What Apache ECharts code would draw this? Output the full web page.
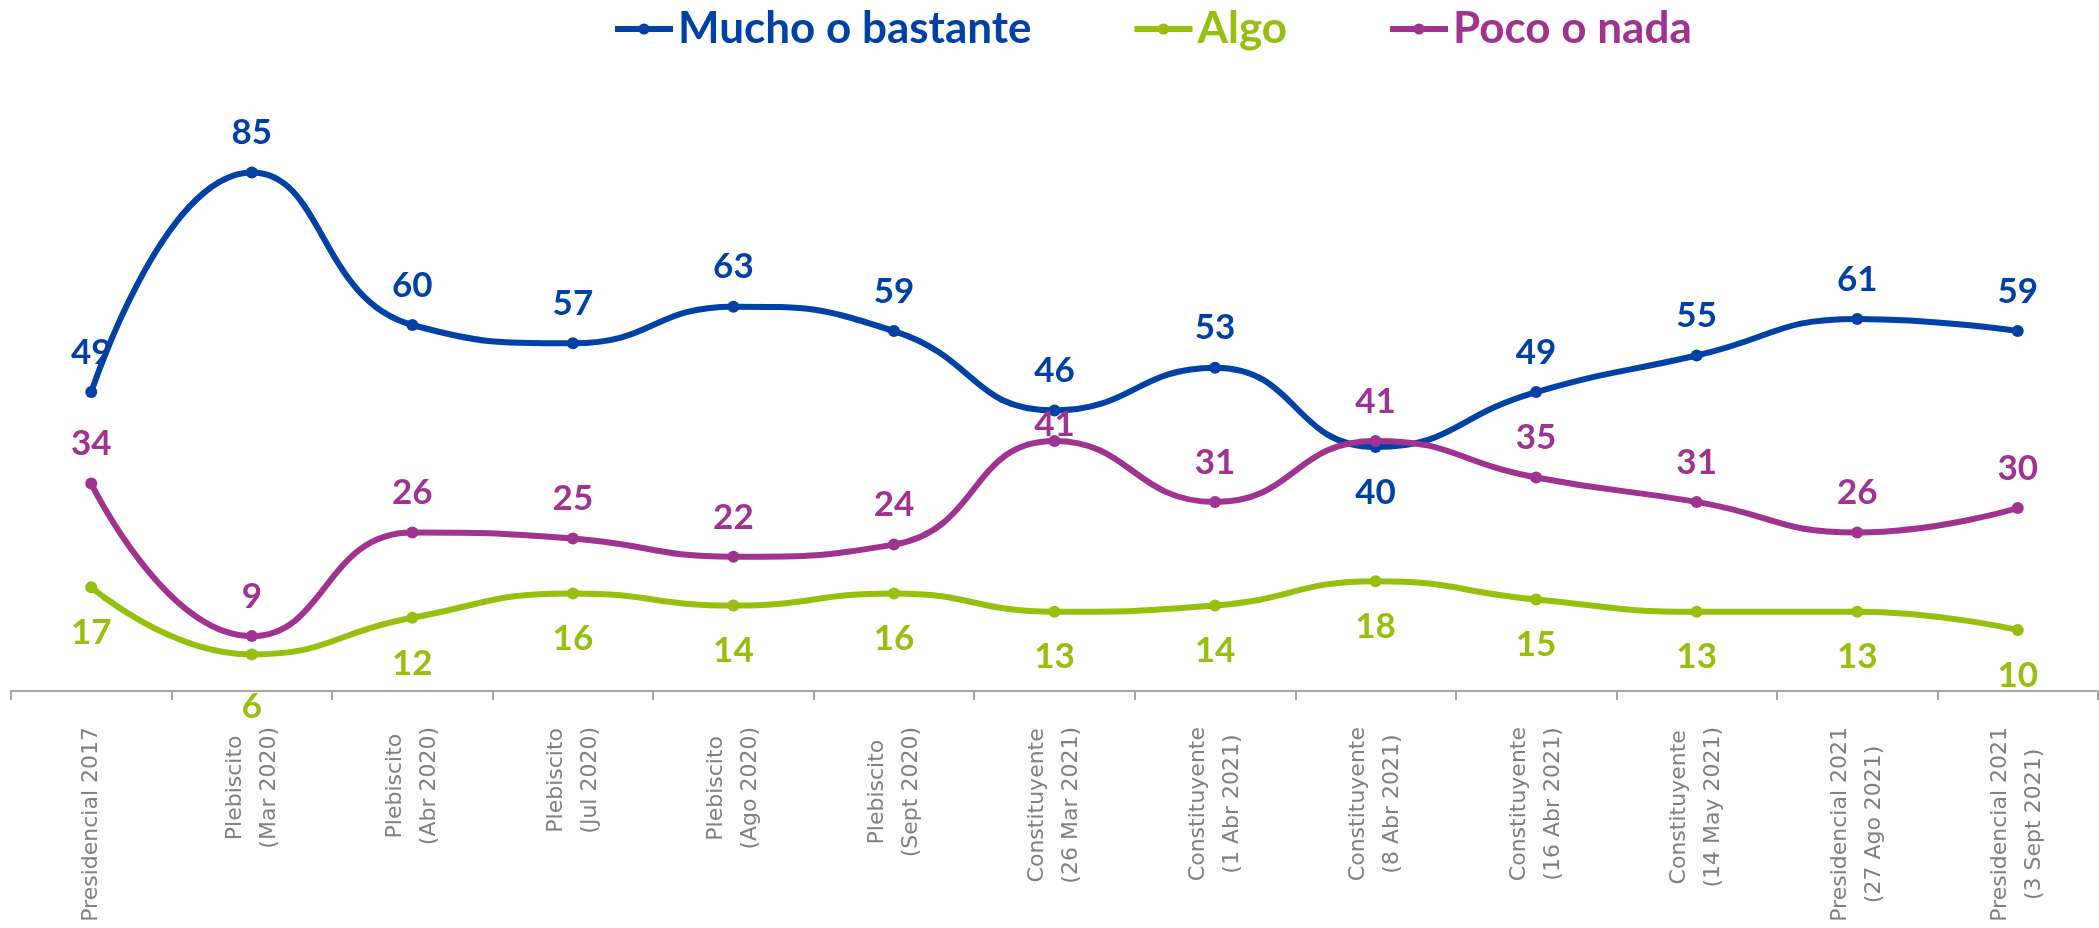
<!DOCTYPE html>
<html>
<head>
<meta charset="utf-8">
<style>
  html, body { margin: 0; padding: 0; background: #fff; }
  #chart { width: 2099px; height: 928px; }
</style>
<script src="https://cdn.jsdelivr.net/npm/echarts@6/dist/echarts.min.js"></script>
</head>
<body>
<div id="chart"></div>
<script>
// Encuestas: confianza en el proceso electoral
const categories = [
  'Presidencial 2017',
  'Plebiscito\n(Mar 2020)',
  'Plebiscito\n(Abr 2020)',
  'Plebiscito\n(Jul 2020)',
  'Plebiscito\n(Ago 2020)',
  'Plebiscito\n(Sept 2020)',
  'Constituyente\n(26 Mar 2021)',
  'Constituyente\n(1 Abr 2021)',
  'Constituyente\n(8 Abr 2021)',
  'Constituyente\n(16 Abr 2021)',
  'Constituyente\n(14 May 2021)',
  'Presidencial 2021\n(27 Ago 2021)',
  'Presidencial 2021\n(3 Sept 2021)',
];
const muchoValues = [49, 85, 60, 57, 63, 59, 46, 53, 40, 49, 55, 61, 59];
const algoValues = [17, 6, 12, 16, 14, 16, 13, 14, 18, 15, 13, 13, 10];
const pocoValues = [34, 9, 26, 25, 22, 24, 41, 31, 41, 35, 31, 26, 30];

const COLORS = { mucho: '#0041a6', algo: '#97bf0d', poco: '#a03290' };
const LABEL_FONT = 'Lato, "Open Sans", sans-serif';

/** Ajustes puntuales de etiquetas, como en el gráfico original. */
const labelTweaks = {
  mucho: { 8: { position: 'bottom', distance: 22 } },
  algo: { 1: { distance: 29 } },
  poco: { 6: { distance: -7 } },
};

function buildData(values, tweaks) {
  return values.map((value, index) =>
    tweaks[index] ? { value, label: tweaks[index] } : value,
  );
}

function lineSeries(name, key, values, position, distance) {
  return {
    name,
    type: 'line',
    smooth: 0.5,
    symbol: 'circle',
    symbolSize: 12,
    data: buildData(values, labelTweaks[key]),
    itemStyle: { color: COLORS[key] },
    lineStyle: { color: COLORS[key], width: 6 },
    label: {
      show: true,
      position,
      distance,
      color: COLORS[key],
      fontFamily: LABEL_FONT,
      fontWeight: 'bold',
      fontSize: 35,
    },
    emphasis: { disabled: true },
  };
}

const chart = echarts.init(document.getElementById('chart'));

chart.setOption({
  animation: false,
  legend: {
    left: 607,
    top: 2,
    itemWidth: 58,
    itemHeight: 14,
    itemGap: 100,
    lineStyle: { width: 6 },
    textStyle: {
      fontFamily: LABEL_FONT,
      fontWeight: 'bold',
      fontSize: 44,
      color: 'inherit',
    },
    data: ['Mucho o bastante', 'Algo', 'Poco o nada'],
  },
  grid: {
    left: 11,
    right: 1,
    top: 142,
    bottom: 237,
    containLabel: false,
    outerBoundsMode: 'none',
  },
  xAxis: {
    type: 'category',
    data: categories,
    boundaryGap: true,
    axisLine: { lineStyle: { color: '#a6a6a6', width: 2 } },
    axisTick: { show: true, length: 9, lineStyle: { color: '#a6a6a6', width: 2 } },
    axisLabel: {
      interval: 0,
      rotate: 90,
      margin: 36,
      formatter: (text) =>
        text.split('\n').map((line) => `{a|${line}}`).join('\n'),
      rich: {
        a: {
          fontFamily: '"DejaVu Sans", sans-serif',
          fontSize: 22,
          lineHeight: 34,
          color: '#808080',
          align: 'center',
        },
      },
    },
  },
  yAxis: {
    type: 'value',
    min: 0,
    max: 90,
    show: false,
    splitLine: { show: false },
  },
  series: [
    lineSeries('Mucho o bastante', 'mucho', muchoValues, 'top', 16),
    lineSeries('Algo', 'algo', algoValues, 'bottom', 22),
    lineSeries('Poco o nada', 'poco', pocoValues, 'top', 16),
  ],
});
</script>
</body>
</html>
